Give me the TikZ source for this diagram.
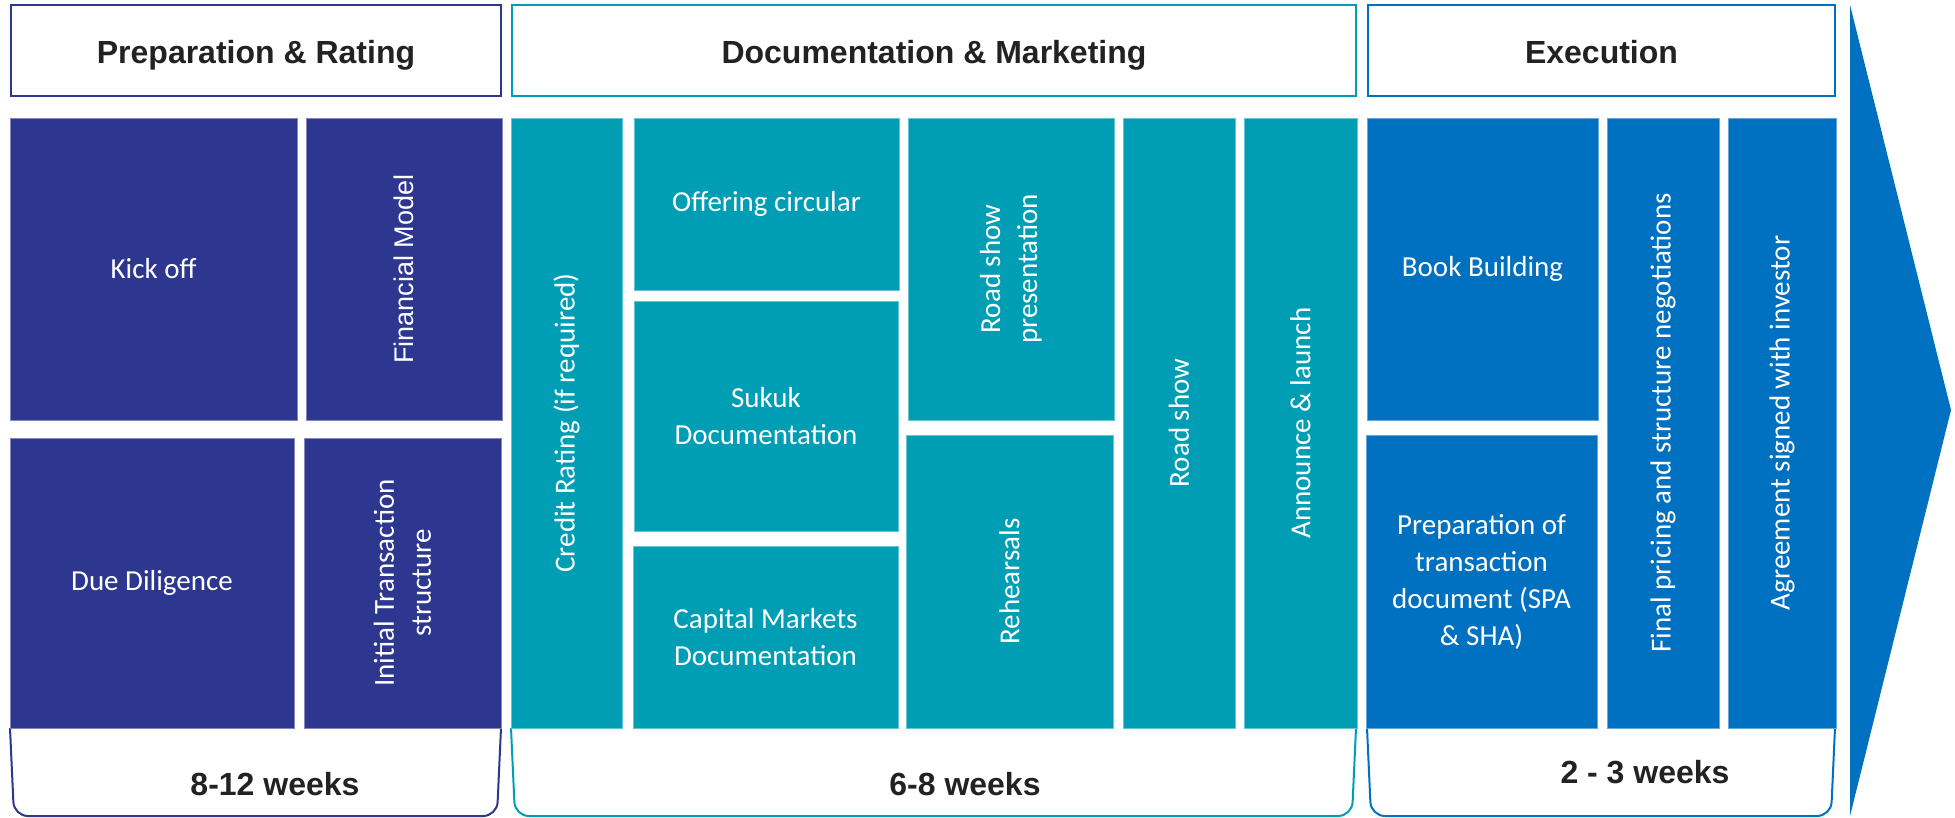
\documentclass[tikz,border=0pt]{standalone}
\usepackage{fontspec}
\setmainfont{Carlito}
\newfontfamily\headfont{Liberation Sans}
\usepackage{xcolor}
\usetikzlibrary{positioning}
\definecolor{prepnavy}{HTML}{2E378F}
\definecolor{docteal}{HTML}{009EB4}
\definecolor{execblue}{HTML}{0070C0}
\definecolor{headtext}{HTML}{222222}

\begin{document}
\begin{tikzpicture}[x=1pt, y=-1pt,
    phase/.style={rectangle, line width=2.5pt, fill=white, inner sep=0pt, minimum height=91pt, text height=32pt, text depth=7pt, text=headtext, font={\headfont\fontsize{32}{38}\selectfont\bfseries}},
    task/.style={rectangle, inner sep=4pt, outer sep=0pt, align=center, text=white, line width=0.8pt, font={\fontsize{29}{37}\selectfont}},
    prepbox/.style={task, fill=prepnavy, draw=prepnavy!60!white},
    docbox/.style={task, fill=docteal, draw=docteal!60!white},
    execbox/.style={task, fill=execblue, draw=execblue!60!white},
    vert/.style={rotate=90},
    span/.style={line width=2pt, rounded corners=14pt},
    weeks/.style={anchor=base, text=headtext, font={\headfont\fontsize{32}{38}\selectfont\bfseries}},
  ]
    \useasboundingbox (0,0) rectangle (1955,817);

    % Duration brackets
    \draw[span, prepnavy] (10,728) -- (14,816) -- (497,816) -- (501,728);
    \draw[span, docteal] (511,728) -- (515,816) -- (1352,816) -- (1356,728);
    \draw[span, execblue] (1367,728) -- (1371,816) -- (1831,816) -- (1835,728);
    \node[weeks] (w1) at (275,795) {8-12 weeks};
    \node[weeks] (w2) at (965,795) {6-8 weeks};
    \node[weeks] (w3) at (1645,783) {2 - 3 weeks};

    % Phase headers
    \node[phase, draw=prepnavy, minimum width=490pt] (prep) at (256,50.5) {Preparation \& Rating};
    \node[phase, draw=docteal, minimum width=844pt] (docmkt) at (934,50.5) {Documentation \& Marketing};
    \node[phase, draw=execblue, minimum width=467pt] (exec) at (1601.5,50.5) {Execution};

    % Preparation & Rating
    \node[prepbox, minimum width=287pt, minimum height=302pt] (kickoff) at (153.5,269) {Kick off};
    \node[prepbox, vert, minimum width=302pt, minimum height=196pt, font={\headfont\fontsize{27}{34}\selectfont}] (finmodel) at (404,269) {Financial Model};
    \node[prepbox, minimum width=284pt, minimum height=290pt] (duedil) at (152,583) {Due Diligence};
    \node[prepbox, vert, minimum width=290pt, minimum height=197pt] (initstruct) at (402.5,583) {Initial Transaction\\structure};

    % Documentation & Marketing
    \node[docbox, vert, minimum width=610pt, minimum height=111pt] (credit) at (566.5,423) {Credit Rating (if required)};
    \node[docbox, minimum width=265pt, minimum height=172pt] (offering) at (766.5,204) {Offering circular};
    \node[docbox, minimum width=264pt, minimum height=230pt] (sukuk) at (766,416) {Sukuk\\Documentation};
    \node[docbox, minimum width=265pt, minimum height=182pt] (capmkt) at (765.5,637) {Capital Markets\\Documentation};
    \node[docbox, vert, minimum width=302pt, minimum height=206pt] (rspres) at (1011,269) {Road show\\presentation};
    \node[docbox, vert, minimum width=293pt, minimum height=207pt] (rehearse) at (1009.5,581.5) {Rehearsals};
    \node[docbox, vert, minimum width=610pt, minimum height=112pt] (roadshow) at (1179,423) {Road show};
    \node[docbox, vert, minimum width=610pt, minimum height=113pt] (announce) at (1300.5,423) {Announce \& launch};

    % Execution
    \node[execbox, minimum width=231pt, minimum height=302pt] (bookbuild) at (1482.5,269) {Book Building};
    \node[execbox, minimum width=231pt, minimum height=293pt] (prepdoc) at (1481.5,581.5) {Preparation of\\transaction\\document (SPA\\\& SHA)};
    \node[execbox, vert, minimum width=610pt, minimum height=112pt] (pricing) at (1663,423) {Final pricing and structure negotiations};
    \node[execbox, vert, minimum width=610pt, minimum height=108pt] (agree) at (1782,423) {Agreement signed with investor};

    % Timeline arrow
    \fill[execblue] (1850,5) -- (1951,410) -- (1850,816) -- cycle;

  \end{tikzpicture}
\end{document}
